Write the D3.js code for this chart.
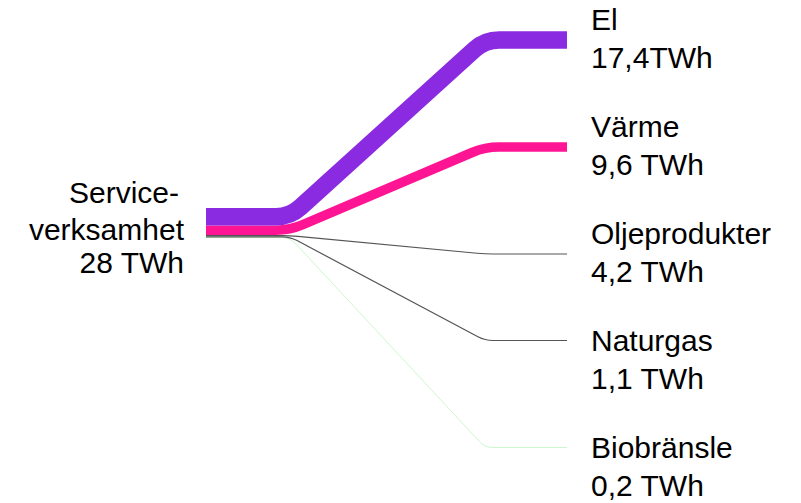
<!DOCTYPE html>
<html>
<head>
<meta charset="utf-8">
<script src="https://cdn.jsdelivr.net/npm/d3@7"></script>
<style>
  html, body { margin: 0; padding: 0; background: #fff; }
  svg { display: block; }
  text { font-family: "Liberation Sans", Arial, sans-serif; fill: #000; }
</style>
</head>
<body>
<svg id="chart" width="801" height="503"></svg>
<script>
// ---- data ----
const sourceName = ["Service-", "verksamhet", "28 TWh"];
const sourceTotal = 28;
const targets = ["El", "Värme", "Oljeprodukter", "Naturgas", "Biobränsle"];
const values = [17.4, 9.6, 4.2, 1.1, 0.2];
const valueLabels = ["17,4TWh", "9,6 TWh", "4,2 TWh", "1,1 TWh", "0,2 TWh"];

// ---- styles ----
const colors = ["#8A2BE2", "#FF1493", "#555555", "#555555", "#90EE90"];

const svg = d3.select("#chart");
const fontSize = 30, lineGap = 37.5;

// layout x positions
const xStart = 206, xBend1 = 290, xBend2 = 485, xEnd = 567;
const labelX = 591;

// width scale (px per TWh)
const wScale = d3.scaleLinear().domain([0, sourceTotal]).range([0, 28]);
const strokeW = v => v >= 5 ? wScale(v) : (v >= 1 ? 1.2 : 0.45);

// label rows (first-line baselines)
const rowY = d3.scalePoint().domain(targets).range([30, 458]);
// anchor: larger flows attach just under the first text line, small ones at its middle
const anchorY = (t, v) => rowY(t) + (v >= 2 ? 10 : -10.5);

// left stacking
let yTop = 208;
const flows = targets.map((t, i) => {
  const w = strokeW(values[i]);
  const yl = yTop + w / 2;
  yTop += w;
  return { t, v: values[i], w, yl, yr: anchorY(t, values[i]), color: colors[i] };
});

function flowPath(d, r) {
  const p = d3.path();
  const dx = xBend2 - xBend1, dy = d.yr - d.yl;
  const len = Math.hypot(dx, dy), ux = dx / len, uy = dy / len;
  p.moveTo(xStart, d.yl);
  p.lineTo(xBend1 - r, d.yl);
  p.quadraticCurveTo(xBend1, d.yl, xBend1 + r * ux, d.yl + r * uy);
  p.lineTo(xBend2 - r * ux, d.yr - r * uy);
  p.quadraticCurveTo(xBend2, d.yr, xBend2 + r, d.yr);
  p.lineTo(xEnd, d.yr);
  return p.toString();
}

// draw thin first, thick on top in reverse order
svg.append("g").selectAll("path")
  .data(flows.slice().reverse())
  .join("path")
  .attr("d", d => flowPath(d, d.w > 5 ? 14 : 8))
  .attr("fill", "none")
  .attr("stroke", d => d.color)
  .attr("stroke-width", d => d.w)
  .attr("stroke-linecap", "butt")
  .attr("stroke-linejoin", "round");

// target labels
const lg = svg.append("g");
targets.forEach((t, i) => {
  const txt = lg.append("text")
    .attr("x", labelX)
    .attr("y", rowY(t))
    .attr("font-size", fontSize);
  txt.append("tspan").attr("x", labelX).text(t);
  txt.append("tspan").attr("x", labelX).attr("dy", lineGap).text(valueLabels[i]);
});

// source label (right aligned)
const srcX = 184;
const st = svg.append("text")
  .attr("x", srcX)
  .attr("y", 203)
  .attr("font-size", fontSize)
  .attr("text-anchor", "end");
sourceName.forEach((s, i) => {
  st.append("tspan").attr("x", i === 0 ? srcX - 5 : srcX).attr("dy", i === 0 ? 0 : (i === 1 ? 37 : 33)).text(s);
});
</script>
</body>
</html>
